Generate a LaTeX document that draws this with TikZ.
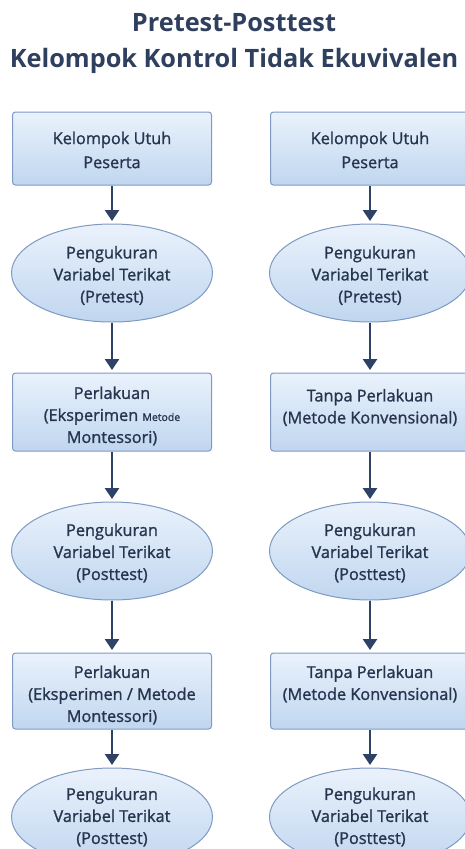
\documentclass[tikz,border=0pt]{standalone}
\usepackage{fontspec}
\setmainfont{Open Sans}[RawFeature={embolden=1.2}]
\newfontfamily\ttlfont{Open Sans}
\usetikzlibrary{shapes.geometric,arrows.meta}
\definecolor{txt}{HTML}{26344E}
\definecolor{ttl}{HTML}{2F3F5E}
\definecolor{edge}{HTML}{7E9AC2}
\definecolor{arr}{HTML}{2E4268}
\definecolor{topc}{HTML}{EAF2FC}
\definecolor{botc}{HTML}{C0D6EF}
\tikzset{
  x=1pt,y=-1pt,
  lbl/.style={font=\fontsize{16.3}{22}\selectfont,text=txt,align=center},
  boxnode/.style={draw=edge,line width=1pt,rounded corners=3pt,top color=topc,bottom color=botc,minimum width=199pt,inner sep=0pt},
  ellnode/.style={ellipse,draw=edge,line width=1pt,top color=topc,bottom color=botc,minimum width=201pt,minimum height=98pt,inner sep=0pt},
  txtin/.style={label={[lbl,yshift=#1]center:{\strut}}},
  flow/.style={draw=arr,line width=2.8pt,-{Triangle[width=14pt,length=11pt]},shorten >=2.5pt}
}
\newcommand{\ellabel}[1]{Pengukuran\\Variabel Terikat\\(#1)}
\begin{document}
\begin{tikzpicture}
\useasboundingbox (0,0) rectangle (465,849);
\node[font=\ttlfont\fontsize{25.3}{36}\bfseries\selectfont,text=ttl,align=center] (title) at (234,44) {Pretest-Posttest\\Kelompok Kontrol Tidak Ekuvivalen};
% left column
\node[boxnode,minimum height=73pt,label={[lbl,font=\fontsize{16.3}{24}\selectfont,yshift=-1.5pt]center:{Kelompok Utuh\\Peserta}}] (l1) at (112,148.5) {};
\node[ellnode,label={[lbl,yshift=-2.5pt]center:{\ellabel{Pretest}}}] (l2) at (112,273) {};
\node[boxnode,minimum height=78pt,label={[lbl,yshift=-4pt]center:{Perlakuan\\(Eksperimen {\fontsize{10.5}{12}\selectfont Metode}\\Montessori)}}] (l3) at (112,412) {};
\node[ellnode,label={[lbl,yshift=-2pt]center:{\ellabel{Posttest}}}] (l4) at (112,551) {};
\node[boxnode,minimum height=76pt,label={[lbl,yshift=-4pt]center:{Perlakuan\\(Eksperimen / Metode\\Montessori)}}] (l5) at (112,691) {};
\node[ellnode,label={[lbl,yshift=0pt]center:{\ellabel{Posttest}}}] (l6) at (112,817) {};
% right column
\node[boxnode,minimum height=73pt,label={[lbl,font=\fontsize{16.3}{24}\selectfont,yshift=-1.5pt]center:{Kelompok Utuh\\Peserta}}] (r1) at (370,148.5) {};
\node[ellnode,label={[lbl,yshift=-2.5pt]center:{\ellabel{Pretest}}}] (r2) at (370,273) {};
\node[boxnode,minimum height=78pt,label={[lbl,yshift=4.5pt]center:{Tanpa Perlakuan\\(Metode Konvensional)}}] (r3) at (370,412) {};
\node[ellnode,label={[lbl,yshift=-2pt]center:{\ellabel{Posttest}}}] (r4) at (370,551) {};
\node[boxnode,minimum height=76pt,label={[lbl,yshift=7pt]center:{Tanpa Perlakuan\\(Metode Konvensional)}}] (r5) at (370,691) {};
\node[ellnode,label={[lbl,yshift=0pt]center:{\ellabel{Posttest}}}] (r6) at (370,817) {};
% arrows
\foreach \a/\b in {l1/l2,l2/l3,l3/l4,l4/l5,l5/l6,r1/r2,r2/r3,r3/r4,r4/r5,r5/r6}
  \draw[flow] (\a.south) -- (\b.north);
\end{tikzpicture}
\end{document}
